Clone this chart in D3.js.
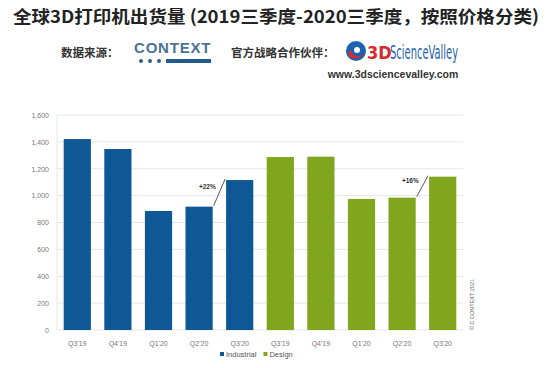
<!DOCTYPE html>
<html><head><meta charset="utf-8">
<script src="https://cdn.jsdelivr.net/npm/d3@7"></script>
<style>
body{margin:0;background:#fff;}
svg{display:block;font-family:"Liberation Sans",Arial,sans-serif;}
</style></head>
<body><svg id="c" width="554" height="368"></svg>
<script>
const quarters = ["Q3'19","Q4'19","Q1'20","Q2'20","Q3'20"];
const industrial = [1421, 1347, 886, 918, 1116];
const design = [1287, 1290, 975, 985, 1141];
const yTicks = [0,200,400,600,800,1000,1200,1400,1600];
const seriesNames = ["Industrial","Design"];
const growthLabels = ["+22%","+16%"];

const colors = {Industrial:"#0e5896", Design:"#7fa61d"};
const svg = d3.select("#c");
const cjk = '"Noto Sans CJK SC","Noto Sans",sans-serif';

// header
svg.append("text").attr("x",276).attr("y",23).attr("text-anchor","middle")
  .attr("font-family",cjk).attr("font-weight","bold").attr("font-size",17.5).attr("fill","#222")
  .attr("textLength",526).attr("lengthAdjust","spacingAndGlyphs")
  .text("全球3D打印机出货量 (2019三季度-2020三季度，按照价格分类)");
svg.append("text").attr("x",61).attr("y",57).attr("font-family",cjk).attr("font-weight","bold")
  .attr("font-size",11.5).attr("fill","#333").text("数据来源：");
svg.append("text").attr("x",134).attr("y",53).attr("font-family","'Liberation Sans',Arial").attr("font-weight","bold")
  .attr("font-size",15).attr("fill","#4a7395").attr("letter-spacing",0.8).text("CONTEXT");
[141,150,159].forEach(x=>svg.append("circle").attr("cx",x).attr("cy",61).attr("r",2).attr("fill","#2f5f88"));
svg.append("rect").attr("x",166).attr("y",59).attr("width",45).attr("height",4).attr("fill","#1e5a8e");
svg.append("text").attr("x",231).attr("y",57).attr("font-family",cjk).attr("font-weight","bold")
  .attr("font-size",11.5).attr("fill","#333").text("官方战略合作伙伴：");
// globe logo
svg.append("circle").attr("cx",356).attr("cy",51).attr("r",10).attr("fill","#1b63b0");
svg.append("path").attr("d","M348,55 A9,9 0 0 0 364,51 A6,6 0 0 1 351,48 Z").attr("fill","#d92b2b");
svg.append("circle").attr("cx",357).attr("cy",50).attr("r",3).attr("fill","#fff");
const lf = "'Liberation Sans Narrow','DejaVu Sans Condensed',sans-serif";
svg.append("text").attr("x",367).attr("y",59).attr("font-family",lf).attr("font-size",18)
  .attr("font-weight","bold").attr("fill","#d42a2a").text("3D");
svg.append("text").attr("x",390).attr("y",59).attr("font-family",lf).attr("font-size",20)
  .attr("fill","#1f64b0")
  .attr("textLength",68).attr("lengthAdjust","spacingAndGlyphs").text("ScienceValley");
svg.append("text").attr("x",393).attr("y",78).attr("text-anchor","middle").attr("font-weight","bold")
  .attr("font-size",10.5).attr("fill","#333").text("www.3dsciencevalley.com");

// chart
const m = {l:57, r:463, t:115, b:330};
const cats = [];
seriesNames.forEach(s=>quarters.forEach(q=>cats.push({key:s+q, q, s})));
const vals = industrial.concat(design);
const x = d3.scaleBand().domain(cats.map(d=>d.key)).range([m.l,m.r]).paddingInner(0.33).paddingOuter(0.165);
const y = d3.scaleLinear().domain([0,1600]).range([m.b,m.t]);

const g = svg.append("g");
g.selectAll("line.grid").data(yTicks).join("line").attr("class","grid")
  .attr("x1",m.l).attr("x2",m.r).attr("y1",d=>y(d)).attr("y2",d=>y(d))
  .attr("stroke","#e6e6e6").attr("stroke-width",1);
g.append("line").attr("x1",m.l).attr("x2",m.l).attr("y1",m.t).attr("y2",m.b).attr("stroke","#e6e6e6");

const yAxis = d3.axisLeft(y).tickValues(yTicks).tickSize(0).tickPadding(8).tickFormat(d3.format(","));
const ya = svg.append("g").attr("transform",`translate(${m.l},0)`).call(yAxis);
ya.select(".domain").remove();
ya.selectAll("text").attr("font-size",7).attr("fill","#777");

g.selectAll("rect.bar").data(cats).join("rect").attr("class","bar")
  .attr("x",d=>x(d.key)).attr("width",x.bandwidth())
  .attr("y",(d,i)=>y(vals[i])).attr("height",(d,i)=>y(0)-y(vals[i]))
  .attr("fill",d=>colors[d.s]);

const xAxis = d3.axisBottom(x).tickSize(0).tickPadding(11).tickFormat(k=>cats.find(c=>c.key===k).q);
const xa = svg.append("g").attr("transform",`translate(0,${m.b})`).call(xAxis);
xa.select(".domain").remove();
xa.selectAll("text").attr("font-size",7).attr("fill","#777");

// growth annotations
[[industrial, "Industrial"],[design,"Design"]].forEach(([arr,s],i)=>{
  const k1 = s+quarters[3], k2 = s+quarters[4];
  const x1 = x(k1)+x.bandwidth()+1, y1 = y(arr[3])-1;
  const x2 = x(k2)-1, y2 = y(arr[4])-1;
  svg.append("line").attr("x1",x1).attr("y1",y1).attr("x2",x2).attr("y2",y2)
    .attr("stroke","#444").attr("stroke-width",0.9);
  svg.append("text").attr("x",x1+2).attr("y",(y1+y2)/2-3).attr("text-anchor","end")
    .attr("font-size",6.5).attr("font-weight","bold").attr("fill","#333").text(growthLabels[i]);
});

// copyright
svg.append("text").attr("transform","translate(474,330) rotate(-90)").attr("font-size",5.5)
  .attr("fill","#666").text("© C CONTEXT 2021");

// legend
const lg = svg.append("g").attr("transform","translate(220,357)");
let lx = 0;
seriesNames.forEach(s=>{
  lg.append("rect").attr("x",lx).attr("y",-5).attr("width",4).attr("height",4).attr("fill",colors[s]);
  const t = lg.append("text").attr("x",lx+6).attr("y",0).attr("font-size",7.5).attr("fill","#555").text(s);
  lx += t.node().getComputedTextLength() + 13;
});
</script></body></html>
